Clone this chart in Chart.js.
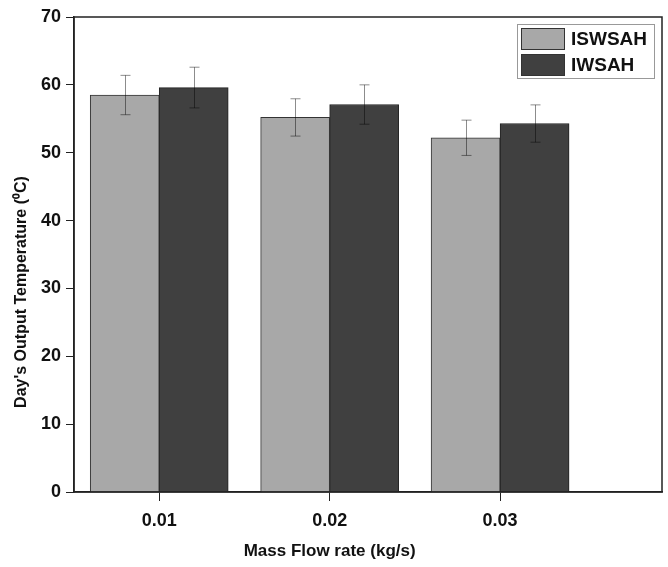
<!DOCTYPE html>
<html>
<head>
<meta charset="utf-8">
<script src="https://cdn.jsdelivr.net/npm/chart.js@4.4.1/dist/chart.umd.min.js"></script>
<style>
  body { margin: 0; background: #fff; }
  #wrap { width: 668px; height: 567px; }
</style>
</head>
<body>
<div id="wrap"><canvas id="tempChart" width="668" height="567"></canvas></div>
<script>
const flowRates = [0.01, 0.02, 0.03];
const iswsahTemp = [58.5, 55.2, 52.2];
const iwsahTemp = [59.6, 57.1, 54.3];
const iswsahErr = [2.9, 2.75, 2.6];
const iwsahErr = [3.0, 2.9, 2.75];
const yTicks = [0, 10, 20, 30, 40, 50, 60, 70];

const FONT = "'Liberation Sans', Arial, sans-serif";

// error bars + frame + legend + axis titles
const extrasPlugin = {
  id: "extras",
  afterDatasetsDraw(chart) {
    const c = chart.ctx;
    const y = chart.scales.y;
    const errs = [iswsahErr, iwsahErr];
    c.save();
    c.strokeStyle = "rgba(0,0,0,0.45)";
    c.lineWidth = 1;
    chart.data.datasets.forEach((ds, di) => {
      const meta = chart.getDatasetMeta(di);
      meta.data.forEach((bar, i) => {
        const v = ds.data[i].y;
        const e = errs[di][i];
        const x = Math.round(bar.x) + 0.5;
        const top = y.getPixelForValue(v + e);
        const bot = y.getPixelForValue(v - e);
        c.beginPath();
        c.moveTo(x, top); c.lineTo(x, bot);
        c.moveTo(x - 5, top); c.lineTo(x + 5, top);
        c.moveTo(x - 5, bot); c.lineTo(x + 5, bot);
        c.stroke();
      });
    });
    c.restore();
  },
  afterDraw(chart) {
    const c = chart.ctx;
    const a = chart.chartArea;
    c.save();
    // plot frame
    c.strokeStyle = "#222";
    c.lineWidth = 1.5;
    c.strokeRect(a.left, a.top, a.right - a.left, a.bottom - a.top);

    // legend box
    c.strokeStyle = "#999";
    c.lineWidth = 1;
    c.strokeRect(517.5, 24.5, 137, 54);
    chart.data.datasets.forEach((ds, i) => {
      const ty = 28 + i * 26;
      c.fillStyle = ds.backgroundColor;
      c.fillRect(521, ty, 44, 22);
      c.strokeStyle = "#333";
      c.strokeRect(521.5, ty + 0.5, 43, 21);
      c.fillStyle = "#111";
      c.font = "bold 19px " + FONT;
      c.textAlign = "left";
      c.textBaseline = "middle";
      c.fillText(ds.label, 571, ty + 12);
    });

    // axis titles
    c.fillStyle = "#111";
    c.textAlign = "center";
    c.textBaseline = "middle";
    c.font = "bold 17px " + FONT;
    c.fillText("Mass Flow rate (kg/s)", chart.scales.x.getPixelForValue(0.02), 551);
    c.font = "bold 16px " + FONT;
    c.translate(22, 292);
    c.rotate(-Math.PI / 2);
    c.fillText("Day's Output Temperature (\u2070C)", 0, 0);
    c.restore();
  }
};

new Chart(document.getElementById("tempChart"), {
  type: "bar",
  data: {
    datasets: [
      {
        label: "ISWSAH",
        data: flowRates.map((f, i) => ({ x: f, y: iswsahTemp[i] })),
        backgroundColor: "#a8a8a8",
        borderColor: "#333",
        borderWidth: 1,
        barThickness: 69
      },
      {
        label: "IWSAH",
        data: flowRates.map((f, i) => ({ x: f, y: iwsahTemp[i] })),
        backgroundColor: "#404040",
        borderColor: "#222",
        borderWidth: 1,
        barThickness: 69
      }
    ]
  },
  options: {
    responsive: false,
    animation: false,
    layout: { padding: { top: 17, right: 6, left: 0, bottom: 0 } },
    plugins: {
      legend: { display: false },
      tooltip: { enabled: false }
    },
    scales: {
      x: {
        type: "linear",
        min: 0.005,
        max: 0.0395,
        offset: false,
        afterBuildTicks: (s) => { s.ticks = flowRates.map(v => ({ value: v })); },
        afterFit: (s) => { s.height = 75; },
        ticks: {
          color: "#111",
          font: { family: FONT, size: 18, weight: "bold" },
          padding: 9,
          callback: (v) => Number(v).toFixed(2)
        },
        grid: { offset: false, drawOnChartArea: false, drawTicks: true, tickLength: 9, color: "#222" },
        border: { display: true, color: "#222", width: 1.5 }
      },
      y: {
        min: 0,
        max: 70,
        afterBuildTicks: (s) => { s.ticks = yTicks.map(v => ({ value: v })); },
        afterFit: (s) => { s.width = 74; },
        ticks: {
          color: "#111",
          font: { family: FONT, size: 18, weight: "bold" },
          padding: 5
        },
        grid: { drawOnChartArea: false, drawTicks: true, tickLength: 8, color: "#222" },
        border: { display: true, color: "#222", width: 1.5 }
      }
    }
  },
  plugins: [extrasPlugin]
});
</script>
</body>
</html>
